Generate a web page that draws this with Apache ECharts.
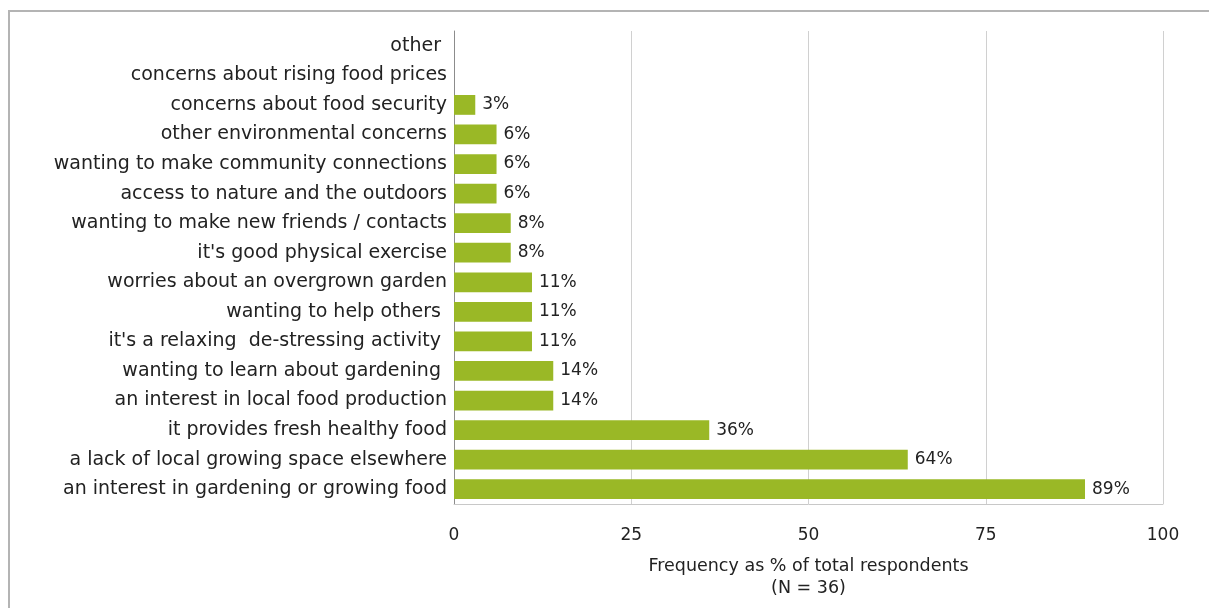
<!DOCTYPE html>
<html>
<head>
<meta charset="utf-8">
<script src="https://cdn.jsdelivr.net/npm/echarts@6/dist/echarts.min.js"></script>
<style>
  html, body { margin: 0; padding: 0; background: #fff; }
  #frame { position: absolute; left: 8px; top: 10px; width: 1220px; height: 620px;
           border-top: 2px solid #b4b4b4; border-left: 2px solid #b4b4b4; box-sizing: border-box; }
  #chart { position: absolute; left: 0; top: 0; width: 1209px; height: 608px; }
</style>
</head>
<body>
<div id="frame"></div>
<div id="chart"></div>
<script>
// Reasons given for joining, top to bottom
const categories = [
  'other ',
  'concerns about rising food prices',
  'concerns about food security',
  'other environmental concerns',
  'wanting to make community connections',
  'access to nature and the outdoors',
  'wanting to make new friends / contacts',
  "it's good physical exercise",
  'worries about an overgrown garden',
  'wanting to help others ',
  "it's a relaxing  de-stressing activity ",
  'wanting to learn about gardening ',
  'an interest in local food production',
  'it provides fresh healthy food',
  'a lack of local growing space elsewhere',
  'an interest in gardening or growing food'
];
// Frequency as % of total respondents
const frequency = [0, 0, 3, 6, 6, 6, 8, 8, 11, 11, 11, 14, 14, 36, 64, 89];
const xTicks = [0, 25, 50, 75, 100];
const axisTitle = 'Frequency as % of total respondents\n(N = 36)';

const FONT = 'DejaVu Sans';
const chart = echarts.init(document.getElementById('chart'), null, { renderer: 'canvas' });
chart.setOption({
  animation: false,
  backgroundColor: 'transparent',
  grid: { left: 454, right: 46, top: 31, bottom: 104, containLabel: false },
  xAxis: {
    type: 'value', min: xTicks[0], max: xTicks[xTicks.length - 1], interval: 25,
    axisLine: { show: true, lineStyle: { color: '#c8c8c8', width: 1 } },
    axisTick: { show: false },
    splitLine: { show: true, lineStyle: { color: '#d0d0d0', width: 1 } },
    axisLabel: { color: '#222', fontFamily: FONT, fontSize: 17, margin: 23 },
    name: axisTitle, nameLocation: 'middle', nameGap: 51,
    nameTextStyle: { color: '#222', fontFamily: FONT, fontSize: 17.5, lineHeight: 22 }
  },
  yAxis: {
    type: 'category', data: categories, inverse: true,
    axisLine: { show: true, lineStyle: { color: '#8c8c8c', width: 1 } },
    axisTick: { show: false },
    axisLabel: { color: '#222', fontFamily: FONT, fontSize: 19, margin: 7, interval: 0 }
  },
  series: [{
    type: 'bar', data: frequency, barCategoryGap: '33%',
    itemStyle: { color: '#9ab826' },
    label: {
      show: true, position: 'right', distance: 7, color: '#222',
      fontFamily: FONT, fontSize: 17,
      formatter: p => p.value > 0 ? p.value + '%' : ''
    }
  }]
});
</script>
</body>
</html>
